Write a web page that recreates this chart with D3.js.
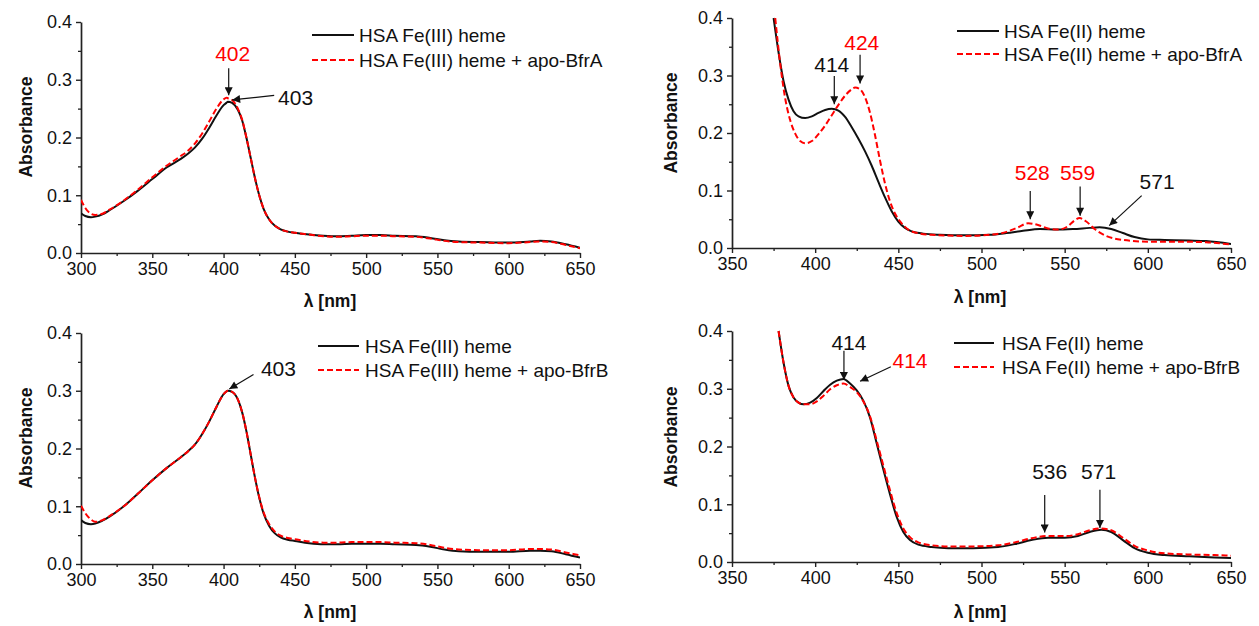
<!DOCTYPE html>
<html><head><meta charset="utf-8">
<script src="https://cdn.jsdelivr.net/npm/d3@7"></script>
<style>
body{margin:0;background:#fff;}
svg{display:block;font-family:"Liberation Sans",Arial,sans-serif;}
</style></head><body>
<svg id="chart" width="1259" height="626"></svg>
<script>
// ---------- DATA ----------
// Panel A: HSA Fe(III) heme vs + apo-BfrA
const wlA = [300,303,307,310,315,320,330,340,350,360,370,375,380,385,390,395,400,402,403,406,410,413,416,419,422,425,428,432,436,440,445,450,460,470,480,490,500,510,520,535,545,555,565,580,600,615,622,630,640,650];
const absA_heme = [0.069,0.064,0.062,0.063,0.067,0.074,0.090,0.108,0.128,0.148,0.163,0.172,0.183,0.198,0.217,0.238,0.256,0.260,0.262,0.260,0.248,0.230,0.200,0.165,0.130,0.100,0.077,0.058,0.047,0.041,0.037,0.035,0.032,0.030,0.029,0.030,0.031,0.031,0.030,0.029,0.026,0.022,0.020,0.019,0.018,0.020,0.021,0.020,0.015,0.009];
const absA_apo  = [0.092,0.078,0.068,0.066,0.068,0.075,0.091,0.110,0.131,0.151,0.168,0.177,0.190,0.207,0.228,0.250,0.266,0.269,0.268,0.265,0.250,0.231,0.200,0.165,0.130,0.100,0.077,0.058,0.047,0.041,0.037,0.035,0.032,0.029,0.028,0.029,0.030,0.030,0.029,0.028,0.025,0.021,0.019,0.018,0.017,0.019,0.020,0.019,0.014,0.008];

// Panel B: HSA Fe(II) heme vs + apo-BfrA
const wlB_heme = [375,378,381,384,387,390,394,398,402,406,410,414,418,422,426,430,434,438,442,446,450,454,458,465,475,490,505,515,525,535,545,555,565,571,578,585,592,600,610,625,635,650];
const absB_heme = [0.400,0.340,0.290,0.258,0.238,0.229,0.226,0.229,0.235,0.240,0.242,0.239,0.228,0.210,0.190,0.168,0.143,0.115,0.088,0.064,0.046,0.035,0.029,0.025,0.023,0.022,0.023,0.026,0.030,0.033,0.032,0.033,0.035,0.036,0.033,0.026,0.019,0.015,0.014,0.013,0.012,0.007];
const wlB_apo = [376,379,382,385,388,391,394,398,402,406,410,414,418,422,424,427,430,433,436,439,442,445,448,452,456,460,470,490,505,515,522,528,534,540,546,552,556,559,563,568,575,585,600,620,635,650];
const absB_apo = [0.400,0.320,0.260,0.222,0.199,0.186,0.182,0.186,0.198,0.213,0.231,0.249,0.265,0.276,0.279,0.276,0.262,0.235,0.196,0.152,0.112,0.081,0.060,0.043,0.032,0.027,0.023,0.021,0.023,0.028,0.036,0.043,0.040,0.034,0.032,0.038,0.048,0.052,0.046,0.033,0.021,0.014,0.011,0.011,0.010,0.006];

// Panel C: HSA Fe(III) heme vs + apo-BfrB
const wlC = [300,303,307,310,315,320,330,340,350,360,370,375,380,385,390,395,400,403,406,410,413,416,419,422,425,428,432,436,440,445,450,460,470,480,490,500,510,520,535,545,555,565,580,600,615,622,630,640,650];
const absC_heme = [0.076,0.071,0.069,0.070,0.075,0.082,0.100,0.122,0.145,0.166,0.185,0.195,0.207,0.225,0.247,0.272,0.294,0.300,0.298,0.285,0.263,0.230,0.190,0.150,0.115,0.088,0.066,0.053,0.046,0.042,0.040,0.036,0.034,0.034,0.035,0.035,0.035,0.034,0.033,0.030,0.025,0.022,0.021,0.021,0.023,0.023,0.022,0.017,0.011];
const absC_apo  = [0.101,0.088,0.077,0.073,0.076,0.083,0.100,0.122,0.145,0.166,0.185,0.195,0.207,0.225,0.247,0.272,0.294,0.300,0.298,0.285,0.263,0.230,0.190,0.150,0.116,0.090,0.069,0.056,0.049,0.045,0.043,0.039,0.037,0.037,0.038,0.038,0.038,0.037,0.036,0.033,0.028,0.025,0.024,0.024,0.026,0.026,0.025,0.020,0.015];

// Panel D: HSA Fe(II) heme vs + apo-BfrB
const wlD = [378,381,384,387,390,393,397,401,405,409,413,417,421,425,429,433,437,441,445,449,453,457,462,470,480,495,510,520,530,540,550,558,565,572,578,585,592,600,610,625,640,650];
const absD_heme = [0.400,0.345,0.305,0.285,0.276,0.273,0.276,0.284,0.296,0.307,0.314,0.317,0.309,0.297,0.279,0.250,0.205,0.160,0.117,0.078,0.052,0.038,0.030,0.026,0.024,0.024,0.026,0.031,0.038,0.042,0.042,0.045,0.052,0.056,0.052,0.038,0.024,0.016,0.012,0.010,0.008,0.007];
const absD_apo  = [0.400,0.345,0.305,0.285,0.276,0.273,0.273,0.278,0.288,0.299,0.306,0.309,0.303,0.294,0.278,0.252,0.210,0.167,0.124,0.085,0.058,0.043,0.034,0.029,0.027,0.027,0.029,0.034,0.041,0.045,0.045,0.048,0.055,0.058,0.055,0.042,0.028,0.020,0.015,0.013,0.012,0.011];

const yTicks = [0.0,0.1,0.2,0.3,0.4];
const xTicksFe3 = [300,350,400,450,500,550,600,650];
const xTicksFe2 = [350,400,450,500,550,600,650];
const legendA = ["HSA Fe(III) heme","HSA Fe(III) heme + apo-BfrA"];
const legendB = ["HSA Fe(II) heme","HSA Fe(II) heme + apo-BfrA"];
const legendC = ["HSA Fe(III) heme","HSA Fe(III) heme + apo-BfrB"];
const legendD = ["HSA Fe(II) heme","HSA Fe(II) heme + apo-BfrB"];

// annotations: label, label position (nm, abs), arrow from -> to (nm, abs), colour
const annA = [
  {t:"402", c:"red",   tx:406.4, ty:0.345, x1:403.6, y1:0.320, x2:403.6, y2:0.273},
  {t:"403", c:"black", tx:450.5, ty:0.269, x1:435.5, y1:0.273, x2:406.0, y2:0.265}
];
const annB = [
  {t:"414", c:"black", tx:410.0, ty:0.319, x1:411.5, y1:0.299, x2:411.5, y2:0.250},
  {t:"424", c:"red",   tx:428.0, ty:0.358, x1:427.0, y1:0.336, x2:427.0, y2:0.286},
  {t:"528", c:"red",   tx:530.5, ty:0.131, x1:529.3, y1:0.099, x2:529.3, y2:0.050},
  {t:"559", c:"red",   tx:557.8, ty:0.132, x1:559.3, y1:0.107, x2:559.3, y2:0.056},
  {t:"571", c:"black", tx:605.6, ty:0.115, x1:596.3, y1:0.091, x2:576.8, y2:0.039}
];
const annC = [
  {t:"403", c:"black", tx:438.5, ty:0.338, x1:421.0, y1:0.328, x2:404.0, y2:0.303}
];
const annD = [
  {t:"414", c:"black", tx:420.3, ty:0.381, x1:417.3, y1:0.366, x2:417.3, y2:0.315},
  {t:"414", c:"red",   tx:457.0, ty:0.349, x1:445.5, y1:0.338, x2:427.0, y2:0.313},
  {t:"536", c:"black", tx:541.0, ty:0.156, x1:538.0, y1:0.116, x2:538.0, y2:0.051},
  {t:"571", c:"black", tx:570.4, ty:0.156, x1:571.2, y1:0.125, x2:571.2, y2:0.059}
];

// ---------- LAYOUT ----------
const panels = [
  {l:81,  r:580,  t:22,  b:253, xd:[300,650], xt:xTicksFe3, s1:[wlA,absA_heme], s2:[wlA,absA_apo], leg:legendA, lg:{x1:312,x2:354,tx:359,y:[35,60]}, ann:annA, yl:{x:26,y:127}, xl:{x:330,y:301}},
  {l:732, r:1231, t:18,  b:248, xd:[350,650], xt:xTicksFe2, s1:[wlB_heme,absB_heme], s2:[wlB_apo,absB_apo], leg:legendB, lg:{x1:957,x2:999,tx:1004,y:[31,54]}, ann:annB, yl:{x:671,y:123}, xl:{x:980,y:297}},
  {l:81,  r:580,  t:333, b:564, xd:[300,650], xt:xTicksFe3, s1:[wlC,absC_heme], s2:[wlC,absC_apo], leg:legendC, lg:{x1:318,x2:359,tx:365,y:[346,370]}, ann:annC, yl:{x:26,y:438}, xl:{x:330,y:612}},
  {l:732, r:1231, t:331, b:562, xd:[350,650], xt:xTicksFe2, s1:[wlD,absD_heme], s2:[wlD,absD_apo], leg:legendD, lg:{x1:954,x2:994,tx:1002,y:[343,367]}, ann:annD, yl:{x:671,y:437}, xl:{x:980,y:612}}
];

const svg = d3.select("#chart");
const defs = svg.append("defs");
defs.append("marker").attr("id","ah").attr("viewBox","0 0 10 10").attr("refX",10).attr("refY",5)
  .attr("markerWidth",10).attr("markerHeight",8).attr("markerUnits","userSpaceOnUse").attr("orient","auto")
  .append("path").attr("d","M0,0 L10,5 L0,10 Z").attr("fill","#111");

panels.forEach((p,i) => {
  const x = d3.scaleLinear().domain(p.xd).range([p.l,p.r]);
  const y = d3.scaleLinear().domain([0,0.4]).range([p.b,p.t]);
  const g = svg.append("g");
  defs.append("clipPath").attr("id","clip"+i).append("rect")
    .attr("x",p.l).attr("y",p.t-1).attr("width",p.r-p.l).attr("height",p.b-p.t+1);

  // minor ticks
  const xMinor = d3.range(p.xd[0]+25, p.xd[1], 50);
  const yMinor = [0.05,0.15,0.25,0.35];
  g.append("g").attr("transform",`translate(0,${p.b})`)
    .call(d3.axisBottom(x).tickValues(xMinor).tickSize(3).tickFormat(""))
    .call(a=>a.select(".domain").remove())
    .call(a=>a.selectAll("line").attr("stroke","#222").attr("stroke-width",1.3));
  g.append("g").attr("transform",`translate(${p.l},0)`)
    .call(d3.axisLeft(y).tickValues(yMinor).tickSize(3).tickFormat(""))
    .call(a=>a.select(".domain").remove())
    .call(a=>a.selectAll("line").attr("stroke","#222").attr("stroke-width",1.3));

  // major axes
  const xa = g.append("g").attr("transform",`translate(0,${p.b})`)
    .call(d3.axisBottom(x).tickValues(p.xt).tickSize(5).tickSizeOuter(0).tickPadding(4).tickFormat(d3.format("d")));
  const ya = g.append("g").attr("transform",`translate(${p.l},0)`)
    .call(d3.axisLeft(y).tickValues(yTicks).tickSize(5).tickSizeOuter(0).tickPadding(4).tickFormat(d3.format(".1f")));
  [xa,ya].forEach(a=>{
    a.select(".domain").attr("stroke","#222").attr("stroke-width",1.7);
    a.selectAll(".tick line").attr("stroke","#222").attr("stroke-width",1.4);
    a.selectAll(".tick text").attr("fill","#111").style("font-size","18px").style("font-family","'Liberation Sans',Arial,sans-serif");
  });

  // curves
  const line = d3.line().x(d=>x(d[0])).y(d=>y(d[1])).curve(d3.curveMonotoneX);
  const pts1 = p.s1[0].map((w,k)=>[w,p.s1[1][k]]);
  const pts2 = p.s2[0].map((w,k)=>[w,p.s2[1][k]]);
  const cg = g.append("g").attr("clip-path",`url(#clip${i})`);
  cg.append("path").attr("d",line(pts1)).attr("fill","none").attr("stroke","#111").attr("stroke-width",2);
  cg.append("path").attr("d",line(pts2)).attr("fill","none").attr("stroke","#ff0000").attr("stroke-width",2).attr("stroke-dasharray","6,3");

  // legend
  p.leg.forEach((txt,k)=>{
    g.append("line").attr("x1",p.lg.x1).attr("x2",p.lg.x2).attr("y1",p.lg.y[k]).attr("y2",p.lg.y[k])
      .attr("stroke",k===0?"#111":"#ff0000").attr("stroke-width",2).attr("stroke-dasharray",k===0?null:"6,3");
    g.append("text").attr("x",p.lg.tx).attr("y",p.lg.y[k]).attr("dy","0.35em").attr("fill","#111")
      .style("font-size","19px").text(txt);
  });

  // annotations
  p.ann.forEach(a=>{
    g.append("line").attr("x1",x(a.x1)).attr("y1",y(a.y1)).attr("x2",x(a.x2)).attr("y2",y(a.y2))
      .attr("stroke","#111").attr("stroke-width",1.2).attr("marker-end","url(#ah)");
    g.append("text").attr("x",x(a.tx)).attr("y",y(a.ty)).attr("dy","0.36em").attr("text-anchor","middle")
      .attr("fill",a.c==="red"?"#ff0000":"#111").style("font-size","21px").text(a.t);
  });

  // axis titles
  g.append("text").attr("transform",`translate(${p.yl.x},${p.yl.y}) rotate(-90)`).attr("text-anchor","middle")
    .attr("dy","0.35em").style("font-size","17.5px").style("font-weight","bold").attr("fill","#111").text("Absorbance");
  g.append("text").attr("x",p.xl.x).attr("y",p.xl.y).attr("dy","0.35em").attr("text-anchor","middle")
    .style("font-size","17.5px").style("font-weight","bold").attr("fill","#111").text("λ [nm]");
});
</script>
</body></html>
